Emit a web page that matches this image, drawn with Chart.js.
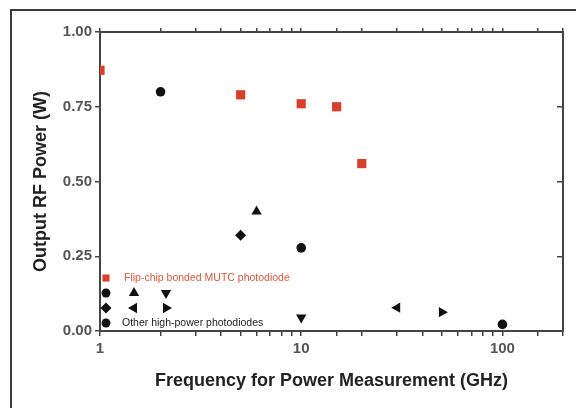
<!DOCTYPE html>
<html>
<head>
<meta charset="utf-8">
<script src="https://cdn.jsdelivr.net/npm/chart.js@4.4.1/dist/chart.umd.min.js"></script>
<style>
  html, body { margin: 0; padding: 0; background: #fff; }
  #wrap { position: relative; width: 576px; height: 408px; overflow: hidden; }
  #frame { position: absolute; left: 10px; top: 9px; width: 700px; height: 500px; border: 2px solid #3a3a3a; pointer-events: none; }
  canvas { position: absolute; left: 0; top: 0; }
</style>
</head>
<body>
<div id="wrap">
  <canvas id="chart" width="576" height="408"></canvas>
  <div id="frame"></div>
</div>
<script>
// Output RF power vs. measurement frequency

// Flip-chip bonded MUTC photodiodes (red squares)
const mutcFreq = [1, 5, 10, 15, 20];
const mutcPower = [0.872, 0.79, 0.76, 0.75, 0.56];

// Other high-power photodiodes, one array pair per marker shape
const circleFreq = [2, 10, 100];
const circlePower = [0.80, 0.278, 0.022];
const diamondFreq = [5];
const diamondPower = [0.32];
const triUpFreq = [6];
const triUpPower = [0.40];
const triDownFreq = [10];
const triDownPower = [0.045];
const triLeftFreq = [30];
const triLeftPower = [0.078];
const triRightFreq = [50];
const triRightPower = [0.063];

const xLabels = [1, 10, 100];
const yTicks = [0, 0.25, 0.5, 0.75, 1];

const toPoints = (xs, ys) => xs.map((x, i) => ({ x: x, y: ys[i] }));

const red = '#d9402c';
const black = '#111';

function blackSet(xs, ys, style, rotation, radius) {
  return {
    data: toPoints(xs, ys),
    pointStyle: style,
    rotation: rotation,
    pointRadius: radius,
    backgroundColor: black,
    borderColor: black,
    borderWidth: 0,
    showLine: false
  };
}

// legend drawn inside the plot, bottom-left corner
const insideLegend = {
  id: 'insideLegend',
  afterDatasetsDraw(chart) {
    const ctx = chart.ctx;
    const a = chart.chartArea;
    const x0 = a.left + 6, x1 = a.left + 34, x2 = a.left + 66;
    const yR = a.bottom - 53, y1 = a.bottom - 38, y2 = a.bottom - 23, y3 = a.bottom - 8;
    const h = Chart.helpers;
    ctx.save();
    ctx.fillStyle = red;
    ctx.strokeStyle = red;
    h.drawPoint(ctx, { pointStyle: 'rect', rotation: 0, radius: 5, borderWidth: 0 }, x0, yR);
    ctx.fillStyle = black;
    ctx.strokeStyle = black;
    const marks = [
      ['circle', 0, x0, y1, 4.5], ['triangle', 0, x1, y1, 6], ['triangle', 180, x2, y1, 6],
      ['rectRot', 0, x0, y2, 5.5], ['triangle', 270, x1, y2, 6], ['triangle', 90, x2, y2, 6],
      ['circle', 0, x0, y3, 4.5]
    ];
    marks.forEach(m => h.drawPoint(ctx, { pointStyle: m[0], rotation: m[1], radius: m[4], borderWidth: 0 }, m[2], m[3]));
    ctx.font = '10.5px "Liberation Sans", Arial, sans-serif';
    ctx.textBaseline = 'middle';
    ctx.fillStyle = '#e0553a';
    ctx.fillText('Flip-chip bonded MUTC photodiode', a.left + 24, yR);
    ctx.fillStyle = '#222';
    ctx.fillText('Other high-power photodiodes', a.left + 22, y3);
    ctx.restore();
  }
};

const tickFont = { family: '"Liberation Sans", Arial, sans-serif', size: 15, weight: 'bold' };
const titleFont = { family: '"Liberation Sans", Arial, sans-serif', size: 18, weight: 'bold' };
const axisColor = '#444';

new Chart(document.getElementById('chart'), {
  type: 'scatter',
  data: {
    datasets: [
      {
        data: toPoints(mutcFreq, mutcPower),
        pointStyle: 'rect',
        pointRadius: 6.5,
        backgroundColor: red,
        borderColor: red,
        borderWidth: 0,
        clip: 0
      },
      blackSet(circleFreq, circlePower, 'circle', 0, 4.8),
      blackSet(diamondFreq, diamondPower, 'rectRot', 0, 5.5),
      blackSet(triUpFreq, triUpPower, 'triangle', 0, 6),
      blackSet(triDownFreq, triDownPower, 'triangle', 180, 6),
      blackSet(triLeftFreq, triLeftPower, 'triangle', 270, 6),
      blackSet(triRightFreq, triRightPower, 'triangle', 90, 6)
    ]
  },
  options: {
    responsive: false,
    animation: false,
    layout: { padding: 0 },
    plugins: {
      legend: { display: false },
      tooltip: { enabled: false }
    },
    scales: {
      x: {
        type: 'logarithmic',
        position: 'bottom',
        min: 1,
        max: 200,
        afterFit: s => { s.height = 77; },
        border: { color: axisColor, width: 2 },
        grid: { drawOnChartArea: false, drawTicks: true, tickLength: 5, color: axisColor, lineWidth: 1.5 },
        ticks: {
          autoSkip: false,
          maxRotation: 0,
          padding: 4,
          color: '#555',
          font: tickFont,
          callback: v => (xLabels.includes(v) ? String(v) : '')
        },
        title: {
          display: true,
          text: 'Frequency for Power Measurement (GHz)',
          color: '#222',
          font: titleFont,
          padding: { top: 0, bottom: 16 }
        }
      },
      xTop: {
        type: 'logarithmic',
        position: 'top',
        min: 1,
        max: 200,
        afterFit: s => { s.height = 32; },
        border: { color: axisColor, width: 2 },
        grid: { drawOnChartArea: false, drawTicks: true, tickLength: 4, color: axisColor, lineWidth: 1.5 },
        ticks: { autoSkip: false, callback: () => '' }
      },
      y: {
        position: 'left',
        min: 0,
        max: 1,
        afterFit: s => { s.width = 100; },
        afterBuildTicks: s => { s.ticks = yTicks.map(v => ({ value: v })); },
        border: { color: axisColor, width: 2 },
        grid: { drawOnChartArea: false, drawTicks: true, tickLength: 5, color: axisColor, lineWidth: 1.5 },
        ticks: {
          padding: 3,
          color: '#555',
          font: tickFont,
          callback: v => v.toFixed(2)
        },
        title: {
          display: true,
          text: 'Output RF Power (W)',
          color: '#222',
          font: titleFont,
          padding: { top: 30, bottom: 0 }
        }
      },
      yRight: {
        position: 'right',
        min: 0,
        max: 1,
        afterFit: s => { s.width = 13; },
        afterBuildTicks: s => { s.ticks = yTicks.map(v => ({ value: v })); },
        border: { color: axisColor, width: 2 },
        grid: { drawOnChartArea: false, drawTicks: true, tickLength: -6, color: axisColor, lineWidth: 1.5 },
        ticks: { display: false }
      }
    }
  },
  plugins: [insideLegend]
});
</script>
</body>
</html>
